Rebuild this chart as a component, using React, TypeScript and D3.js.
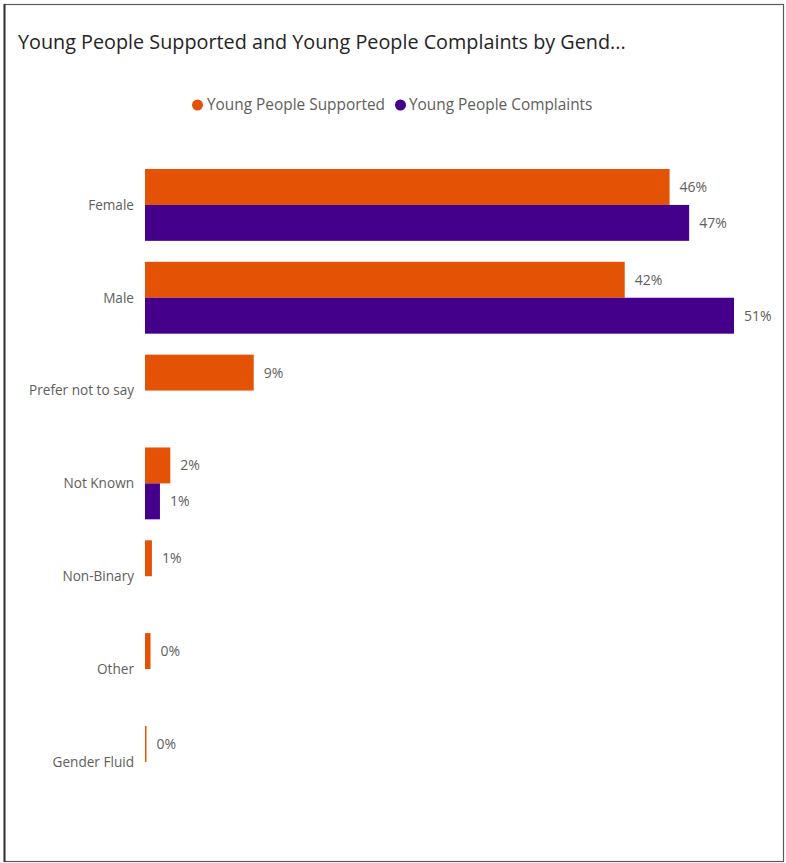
import React from "react";
import * as d3 from "d3";

const categories = ["Female", "Male", "Prefer not to say", "Not Known", "Non-Binary", "Other", "Gender Fluid"];
const seriesNames = ["Young People Supported", "Young People Complaints"];
const supported = [45.6, 41.7, 9.45, 2.2, 0.6, 0.48, 0.13];
const complaints: (number | null)[] = [47.3, 51.2, null, 1.3, null, null, null];
const seriesColors = ["#E35205", "#44008B"];
const title = "Young People Supported and Young People Complaints by Gend...";

const W = 786;
const H = 863;
const FONT = "'Open Sans', 'Noto Sans', sans-serif";
const TEXT_GRAY = "#605E5C";

export default function App() {
  const series = [supported, complaints];
  const maxV = d3.max([...supported, ...(complaints.filter((v) => v != null) as number[])]) as number;
  const x = d3.scaleLinear().domain([0, maxV]).range([145, 734]);
  const pad = 21 / 93;
  const y = d3
    .scaleBand<string>()
    .domain(categories)
    .range([158.5, 808.3])
    .paddingInner(pad)
    .paddingOuter(pad / 2);
  const inner = d3.scaleBand<string>().domain(seriesNames).range([0, y.bandwidth()]);

  return (
    <svg
      width={W}
      height={H}
      style={{ position: "absolute", left: 0, top: 0, background: "#fff" }}
      fontFamily={FONT}
    >
      <rect x={0} y={0} width={W} height={H} fill="#fff" />
      <rect x={4.5} y={4.5} width={779} height={857} fill="none" stroke="#5a5a5a" strokeWidth={1.2} />
      <line x1={4.5} x2={4.5} y1={4} y2={862} stroke="#333" strokeWidth={2} />
      <text x={18} y={49} fontSize={19.8} fill="#252423">
        {title}
      </text>
      {/* legend */}
      <g>
        <circle cx={197.5} cy={105} r={5.5} fill={seriesColors[0]} />
        <text x={207} y={105} dy="0.35em" fontSize={15.4} fill={TEXT_GRAY}>
          {seriesNames[0]}
        </text>
        <circle cx={400.5} cy={105} r={5.5} fill={seriesColors[1]} />
        <text x={409} y={105} dy="0.35em" fontSize={15.4} fill={TEXT_GRAY}>
          {seriesNames[1]}
        </text>
      </g>
      {/* category labels */}
      {categories.map((c) => (
        <text
          key={c}
          x={134}
          y={(y(c) as number) + y.bandwidth() / 2}
          dy="0.35em"
          textAnchor="end"
          fontSize={13.6}
          fill={TEXT_GRAY}
        >
          {c}
        </text>
      ))}
      {/* bars */}
      {series.map((vals, si) =>
        vals.map((v, i) => {
          if (v == null) return null;
          const c = categories[i];
          const by = (y(c) as number) + (inner(seriesNames[si]) as number);
          const bh = inner.bandwidth();
          const w = x(v) - x(0);
          return (
            <g key={`${si}-${i}`}>
              <rect x={x(0)} y={by} width={Math.max(w, 1.2)} height={bh} fill={seriesColors[si]} />
              <text
                x={x(v) + 10}
                y={by + bh / 2}
                dy="0.35em"
                fontSize={14}
                fill={TEXT_GRAY}
              >
                {`${Math.round(v)}%`}
              </text>
            </g>
          );
        })
      )}
    </svg>
  );
}
